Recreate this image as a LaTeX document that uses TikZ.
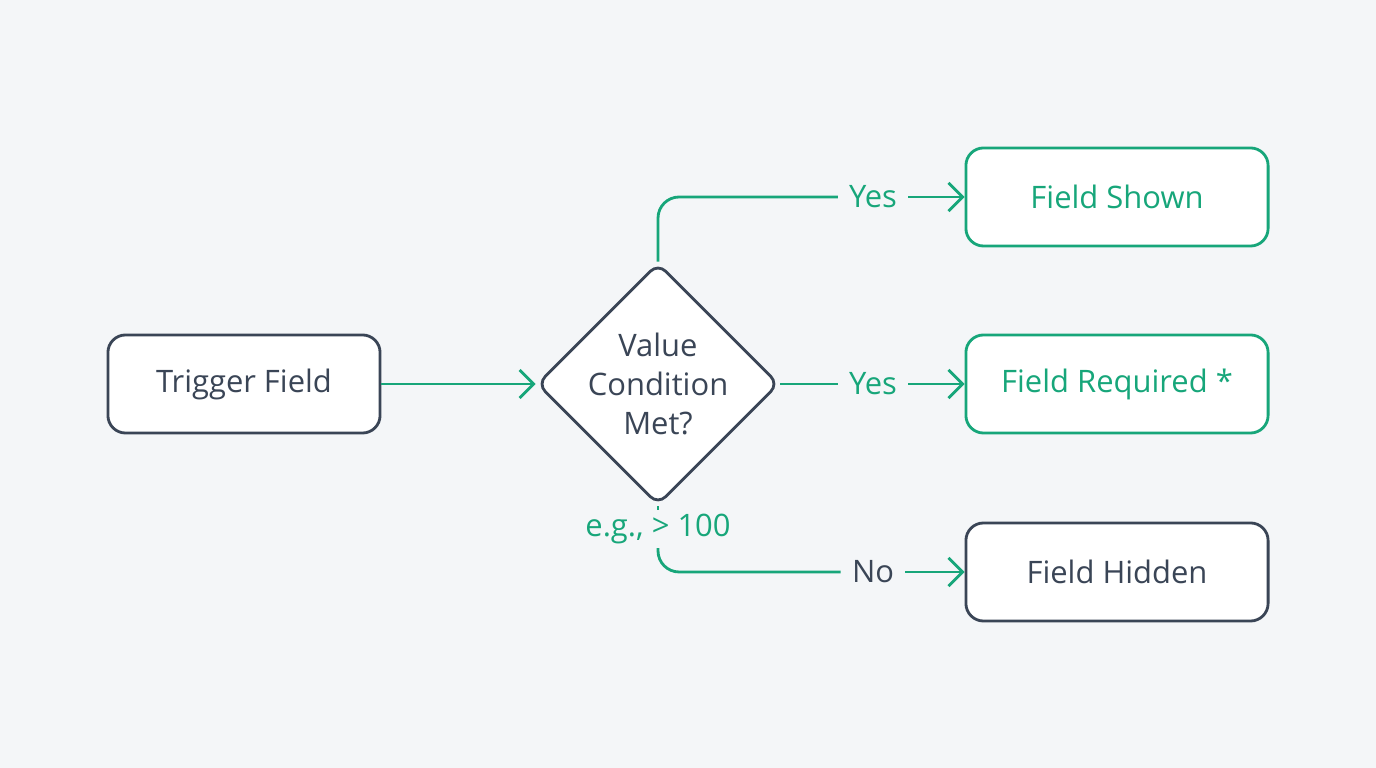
\documentclass[tikz,border=0pt]{standalone}
\usepackage{fontspec}
\setmainfont{Open Sans}
\usetikzlibrary{shapes.geometric,positioning,arrows.meta}
\definecolor{ink}{HTML}{3A4556}
\definecolor{leaf}{HTML}{17A67A}
\definecolor{paper}{HTML}{F4F6F8}

\begin{document}
\begin{tikzpicture}[x=0.01cm,y=-0.01cm,font=\fontsize{8.8}{11}\selectfont]
\tikzset{
% boxes and the decision diamond
plain box/.style={rectangle,rounded corners=5pt,draw=ink,line width=0.8pt,fill=white,
  minimum width=2.72cm,minimum height=0.98cm,text=ink},
green box/.style={plain box,draw=leaf,text=leaf,minimum width=3.02cm},
gray box/.style={plain box,minimum width=3.02cm},
choice/.style={diamond,draw=ink,line width=0.8pt,fill=white,minimum width=2.4cm,
  minimum height=2.26cm,inner sep=0pt,text=ink,align=center,rounded corners=3pt},
link/.style={draw=leaf,line width=0.8pt,rounded corners=6pt},
go/.style={link,-{Straight Barb[length=4pt,width=8pt]}},
tag/.style={text=leaf,inner sep=1pt}
}
\fill[paper] (0,0) rectangle (1376,768);

% The nodes
\node (trig)[plain box] at (244,384) {Trigger Field};
\node (cond)[choice] at (658,384) {Value\\Condition\\Met?};
\node (shown)[green box] at (1117,197) {Field Shown};
\node (req)[green box] at (1117,384) {Field Required \textcolor{leaf}{*}};
\node (hid)[gray box] at (1117,572) {Field Hidden};

% labels on the branches
\node (y1)[tag] at (873,197) {Yes};
\node (y2)[tag] at (873,384) {Yes};
\node (n1)[tag,text=ink] at (873,572) {No};
\node (eg)[tag] at (658,529) {e.g., > 100};

% connectors
\draw[go] (trig) -- (cond);
\draw[link] (cond.north) |- ([xshift=-2pt]y1.west);
\draw[go] ([xshift=2pt]y1.east) -- (shown);
\draw[link] (cond.east) -- ([xshift=-2pt]y2.west);
\draw[go] ([xshift=2pt]y2.east) -- (req);
\draw[link] (cond.south) -- (eg.north);
\draw[link] (eg.south) |- ([xshift=-2pt]n1.west);
\draw[go] ([xshift=2pt]n1.east) -- (hid);
\end{tikzpicture}
\end{document}
